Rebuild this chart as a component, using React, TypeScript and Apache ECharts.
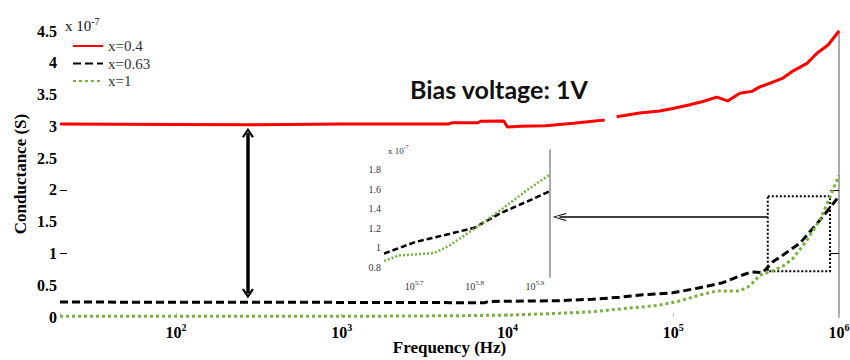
import React, { useEffect, useRef } from "react";
import * as echarts from "echarts";

// ---------- data (conductance in units of 1e-7 S) ----------
const seriesNames = ["x=0.4", "x=0.63", "x=1"];

const redFreq = [20, 100, 300, 1000, 4400, 4600, 6600, 6900, 9500, 10000, 12000, 17000, 25000, 36000, 38600, 42000, 45600, 62800, 82900, 99300, 126000, 151000, 183000, 213000, 252000, 298000, 333000, 394000, 459000, 520000, 641000, 736000, 859000, 1000000];
const redValues = [3.035, 3.03, 3.025, 3.035, 3.035, 3.055, 3.055, 3.08, 3.085, 2.99, 3.0, 3.01, 3.05, 3.09, 3.1, null, 3.15, 3.21, 3.24, 3.28, 3.34, 3.39, 3.46, 3.4, 3.52, 3.55, 3.62, 3.69, 3.76, 3.86, 3.99, 4.15, 4.28, 4.5];

const blackFreq = [20, 1000, 7300, 7700, 20600, 32600, 47500, 65400, 99300, 144500, 199000, 252000, 298000, 347000, 399000, 459000, 581000, 668000, 800000, 1000000];
const blackValues = [0.235, 0.23, 0.225, 0.245, 0.257, 0.28, 0.31, 0.35, 0.38, 0.46, 0.54, 0.645, 0.71, 0.7, 0.87, 0.975, 1.16, 1.34, 1.58, 1.9];

const greenFreq = [20, 1000, 5000, 10000, 20600, 32600, 52400, 79400, 105000, 144500, 183000, 252000, 290000, 333000, 383000, 459000, 527000, 641000, 767000, 883000, 1000000];
const greenValues = [0.01, 0.01, 0.02, 0.03, 0.058, 0.083, 0.137, 0.18, 0.24, 0.346, 0.41, 0.41, 0.49, 0.66, 0.71, 0.8, 0.92, 1.21, 1.53, 1.89, 2.23];

// inset (x = log10 of frequency)
const insetBlackLogF = [5.65, 5.703, 5.758, 5.8, 5.842, 5.886, 5.925];
const insetBlackValues = [0.94, 1.06, 1.14, 1.205, 1.35, 1.47, 1.58];
const insetGreenLogF = [5.65, 5.675, 5.733, 5.758, 5.8, 5.842, 5.886, 5.925];
const insetGreenValues = [0.865, 0.92, 0.945, 1.02, 1.195, 1.38, 1.585, 1.75];

const yTicks = [0, 0.5, 1, 1.5, 2, 2.5, 3, 3.5, 4, 4.5];
const insetYLabels = [0.8, 1, 1.2, 1.4, 1.6, 1.8];
const insetXLabels = [5.7, 5.8, 5.9];

// annotation anchors (data coordinates)
const gapArrowFreq = 272;
const gapArrowTop = 2.9;
const gapArrowBottom = 0.37;
const zoomBox = { f0: 372000, f1: 883000, v0: 1.9, v1: 0.72 };
const pointerArrow = { f0: 20600, f1: 372000, v: 1.573 };

const SERIF = '"Liberation Serif", "Times New Roman", Times, serif';
const RED = "#ff0000";
const GREEN = "#78b13c";

const chevron = "path://M0,10 L6,0 L12,10 L10,11 L6,4 L2,11 Z";
const thinChevron = "path://M0,13 L4,0 L8,13 L7,13.6 L4,2.5 L1,13.6 Z";

const pairs = (xs: number[], ys: (number | null)[]) => xs.map((x, i) => [x, ys[i]]);

export default function App() {
  const ref = useRef<HTMLDivElement>(null);

  useEffect(() => {
    document.body.style.margin = "0";
    if (!ref.current) return;
    const chart = echarts.init(ref.current, null, { renderer: "svg" });

    const supRich = (base: number, sup: number, color: string, weight: string) => ({
      b: { fontSize: base, lineHeight: base + 4, fontFamily: SERIF, fontWeight: weight, color },
      sup: { fontSize: sup, lineHeight: sup, verticalAlign: "top", fontFamily: SERIF, fontWeight: weight, color },
    });

    const option: any = {
      animation: false,
      backgroundColor: "#ffffff",
      title: [
        {
          text: "{b|x 10}{sup|-7}",
          left: 60,
          top: 11,
          textStyle: { rich: supRich(15, 10, "#111", "normal") },
        },
        {
          text: "Bias voltage: 1V",
          left: 405,
          top: 71,
          textStyle: { fontFamily: "Lato, 'Open Sans', sans-serif", fontWeight: "bold", fontSize: 25, color: "#111" },
        },
        {
          text: "{b|x 10}{sup|-7}",
          left: 383,
          top: 139,
          textStyle: { rich: supRich(9, 6, "#333", "normal") },
        },
      ],
      legend: {
        data: seriesNames,
        orient: "vertical",
        left: 72,
        top: 38,
        padding: 0,
        itemWidth: 30,
        itemHeight: 14,
        itemGap: 1.5,
        itemStyle: { opacity: 0 },
        textStyle: { fontFamily: SERIF, fontSize: 15, lineHeight: 16, color: "#333" },
      },
      grid: [
        { left: 60, right: 11, top: 31, bottom: 43, outerBoundsMode: "none" },
        { left: 384, right: 300, top: 150, bottom: 83, outerBoundsMode: "none" },
      ],
      xAxis: [
        {
          type: "log",
          gridIndex: 0,
          logBase: 10,
          min: 20,
          max: 1000000,
          name: "Frequency (Hz)",
          nameLocation: "middle",
          nameGap: 22,
          nameMoveOverlap: false,
          nameTextStyle: { fontFamily: SERIF, fontWeight: "bold", fontSize: 17, lineHeight: 17, color: "#000" },
          axisLine: { show: false },
          axisTick: { show: true, inside: true, length: 4, lineStyle: { color: "#bbb" } },
          splitLine: { show: false },
          axisLabel: {
            margin: 5,
            formatter: (v: number) => {
              const e = Math.log10(v);
              const n = Math.round(e);
              return Math.abs(e - n) < 1e-6 ? `{b|10}{sup|${n}}` : "";
            },
            rich: supRich(16, 10, "#000", "bold"),
          },
        },
        {
          type: "value",
          gridIndex: 1,
          min: 5.65,
          max: 5.925,
          axisLine: { show: false },
          axisTick: { show: false },
          splitLine: { show: false },
          axisLabel: {
            margin: 2,
            customValues: insetXLabels,
            formatter: (v: number) => {
              const t = Math.round(v * 100);
              return t % 10 === 0 ? `{b|10}{sup|${(t / 100).toFixed(1)}}` : "";
            },
            rich: supRich(10, 7, "#333", "normal"),
          },
        },
      ],
      yAxis: [
        {
          type: "value",
          gridIndex: 0,
          min: yTicks[0],
          max: yTicks[yTicks.length - 1],
          interval: 0.5,
          name: "Conductance (S)",
          nameLocation: "middle",
          nameGap: 31,
          nameMoveOverlap: false,
          nameTextStyle: { fontFamily: SERIF, fontWeight: "bold", fontSize: 17, color: "#000" },
          axisLine: { show: false },
          axisTick: { show: true, inside: true, length: 7, customValues: [1, 2], lineStyle: { color: "#000" } },
          splitLine: { show: false },
          axisLabel: { margin: 3, fontFamily: SERIF, fontWeight: "bold", fontSize: 16, color: "#000", formatter: (v: number) => String(v) },
        },
        {
          type: "value",
          gridIndex: 0,
          position: "right",
          min: 0,
          max: 4.5,
          interval: 0.5,
          axisLine: { show: true, lineStyle: { color: "#aaa", width: 2 } },
          axisTick: { show: true, inside: true, length: 9, customValues: [1, 2], lineStyle: { color: "#000" } },
          axisLabel: { show: false },
          splitLine: { show: false },
        },
        {
          type: "value",
          gridIndex: 1,
          min: 0.7,
          max: 2.0,
          interval: 0.1,
          axisLine: { show: false },
          axisTick: { show: false },
          splitLine: { show: false },
          axisLabel: {
            margin: 3,
            customValues: insetYLabels,
            fontFamily: SERIF,
            fontSize: 10,
            color: "#333",
            formatter: (v: number) => {
              const t = Math.round(v * 10);
              return t % 2 === 0 && t >= 8 && t <= 18 ? String(t / 10) : "";
            },
          },
        },
        {
          type: "value",
          gridIndex: 1,
          position: "right",
          min: 0.7,
          max: 2.0,
          interval: 0.1,
          axisLine: { show: true, lineStyle: { color: "#aaa", width: 2 } },
          axisTick: { show: false },
          axisLabel: { show: false },
          splitLine: { show: false },
        },
      ],
      series: [
        {
          name: seriesNames[0],
          type: "line",
          xAxisIndex: 0,
          yAxisIndex: 0,
          data: pairs(redFreq, redValues),
          symbol: "none",
          connectNulls: false,
          lineStyle: { color: RED, width: 3 },
          itemStyle: { color: RED },
          z: 3,
        },
        {
          name: seriesNames[1],
          type: "line",
          xAxisIndex: 0,
          yAxisIndex: 0,
          data: pairs(blackFreq, blackValues),
          symbol: "none",
          lineStyle: { color: "#000", width: 3, type: [8, 4] },
          itemStyle: { color: "#000" },
          z: 3,
          markLine: {
            silent: true,
            animation: false,
            label: { show: false },
            emphasis: { disabled: true },
            data: [
              [
                { coord: [gapArrowFreq, gapArrowTop], symbol: chevron, symbolSize: [12, 10], lineStyle: { color: "#000", width: 3.5, type: "solid" } },
                { coord: [gapArrowFreq, gapArrowBottom], symbol: chevron, symbolSize: [12, 10] },
              ],
              [
                { coord: [pointerArrow.f0, pointerArrow.v], symbol: thinChevron, symbolSize: [8, 14], lineStyle: { color: "#000", width: 1.5, type: "solid" } },
                { coord: [pointerArrow.f1, pointerArrow.v], symbol: "none" },
              ],
            ],
          },
          markArea: {
            silent: true,
            label: { show: false },
            itemStyle: { color: "rgba(0,0,0,0)", borderColor: "#000", borderWidth: 2, borderType: [2, 2] },
            data: [[{ coord: [zoomBox.f0, zoomBox.v0] }, { coord: [zoomBox.f1, zoomBox.v1] }]],
          },
        },
        {
          name: seriesNames[2],
          type: "line",
          xAxisIndex: 0,
          yAxisIndex: 0,
          data: pairs(greenFreq, greenValues),
          symbol: "none",
          lineStyle: { color: GREEN, width: 3, type: [3, 3] },
          itemStyle: { color: GREEN },
          z: 4,
        },
        {
          name: "inset x=0.63",
          type: "line",
          xAxisIndex: 1,
          yAxisIndex: 2,
          data: pairs(insetBlackLogF, insetBlackValues),
          symbol: "none",
          lineStyle: { color: "#000", width: 2.5, type: [6, 3] },
        },
        {
          name: "inset x=1",
          type: "line",
          xAxisIndex: 1,
          yAxisIndex: 2,
          data: pairs(insetGreenLogF, insetGreenValues),
          symbol: "none",
          lineStyle: { color: GREEN, width: 2.5, type: [2, 2] },
        },
      ],
    };

    chart.setOption(option);
    return () => chart.dispose();
  }, []);

  return <div ref={ref} style={{ width: 850, height: 360 }} />;
}
